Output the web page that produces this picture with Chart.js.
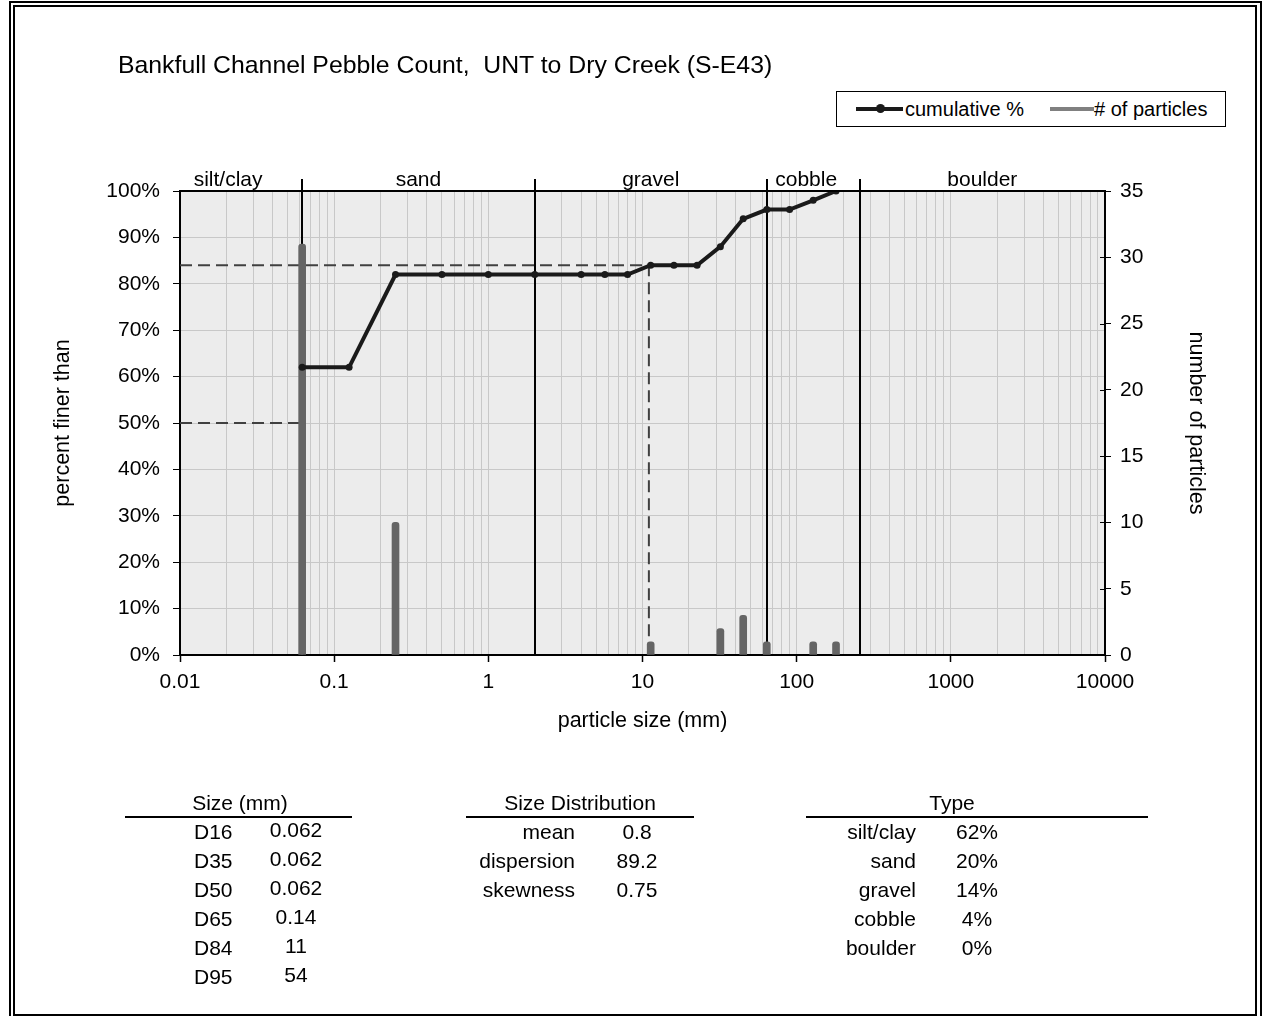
<!DOCTYPE html>
<html>
<head>
<meta charset="utf-8">
<title>Bankfull Channel Pebble Count</title>
<script src="https://cdn.jsdelivr.net/npm/chart.js@4.4.1/dist/chart.umd.min.js"></script>
<style>
  body { margin: 0; background: #fff; }
  #page { position: relative; width: 1263px; height: 1016px; overflow: hidden;
          font-family: "Liberation Sans", Arial, sans-serif; color: #000; }
  #wrap { position: absolute; left: 0; top: 0; width: 1263px; height: 1016px; }
  .frame { position: absolute; border: 2px solid #000; box-sizing: border-box; }
  .txt { position: absolute; white-space: pre; font-size: 21px; line-height: 24px; }
  .rule { position: absolute; height: 2px; background: #000; }
  #legend { position: absolute; left: 836px; top: 91px; width: 390px; height: 36px;
            border: 1px solid #000; box-sizing: border-box; background: #fff; }
</style>
</head>
<body>
<div id="page">
  <div class="frame" style="left:9px; top:1px; width:1253px; height:1040px;"></div>
  <div class="frame" style="left:13px; top:5px; width:1244px; height:1011px;"></div>
  <div id="wrap"><canvas id="chart"></canvas></div>
  <div class="txt" style="left:118px; top:50px; font-size:24.8px; line-height:30px;">Bankfull Channel Pebble Count,  UNT to Dry Creek (S-E43)</div>
  <div id="legend">
    <div style="position:absolute; left:19px; top:15px; width:47px; height:4px; background:#1a1a1a;"></div>
    <div style="position:absolute; left:39px; top:12px; width:9px; height:9px; border-radius:50%; background:#1a1a1a;"></div>
    <div class="txt" style="left:68px; top:5px; font-size:20px;">cumulative %</div>
    <div style="position:absolute; left:213px; top:15px; width:44px; height:4px; background:#808080;"></div>
    <div class="txt" style="left:257px; top:5px; font-size:20px;">#&nbsp;of particles</div>
  </div>
</div>
<script>
// sieve sizes (mm) and cumulative percent finer
const sizes = [0.062, 0.125, 0.25, 0.5, 1, 2, 4, 5.7, 8, 11.3, 16, 22.6, 32, 45, 64, 90, 128, 180];
const cumulative = [62, 62, 82, 82, 82, 82, 82, 82, 82, 84, 84, 84, 88, 94, 96, 96, 98, 100];

// particle counts per size class
const countSizes = [0.062, 0.25, 11.3, 32, 45, 64, 128, 180];
const counts = [31, 10, 1, 2, 3, 1, 1, 1];

// D50 / D84 guide lines
const d50 = 0.062, d84 = 11;

// size class boundaries + names
const classBounds = [0.01, 0.062, 2, 64, 256, 10000];
const classNames = ['silt/clay', 'sand', 'gravel', 'cobble', 'boulder'];

// axis ticks
const xTickValues = [0.01, 0.1, 1, 10, 100, 1000, 10000];
const xTickLabels = ['0.01', '0.1', '1', '10', '100', '1000', '10000'];

// tables
const sizeLabels = ['D16', 'D35', 'D50', 'D65', 'D84', 'D95'];
const sizeValues = ['0.062', '0.062', '0.062', '0.14', '11', '54'];
const distLabels = ['mean', 'dispersion', 'skewness'];
const distValues = ['0.8', '89.2', '0.75'];
const typeLabels = ['silt/clay', 'sand', 'gravel', 'cobble', 'boulder'];
const typeValues = ['62%', '20%', '14%', '4%', '0%'];

const FONT = '"Liberation Sans", Arial, sans-serif';

window.onload = () => {
    const page = document.getElementById('page');

    const addText = (str, x, y, align) => {
        const el = document.createElement('div');
        el.className = 'txt';
        el.textContent = str;
        el.style.left = x + 'px';
        el.style.top = (y - 12) + 'px';
        if (align === 'center') el.style.transform = 'translateX(-50%)';
        if (align === 'right') el.style.transform = 'translateX(-100%)';
        page.appendChild(el);
    };
    const addRule = (x1, x2, y) => {
        const el = document.createElement('div');
        el.className = 'rule';
        el.style.left = x1 + 'px';
        el.style.width = (x2 - x1) + 'px';
        el.style.top = (y - 1) + 'px';
        page.appendChild(el);
    };

    //tables under the chart
    addText('Size (mm)', 240, 803, 'center');
    addRule(125, 352, 817);
    sizeLabels.forEach((l, i) => {
        addText(l, 194, 832 + i * 29, 'left');
        addText(sizeValues[i], 296, 830 + i * 29, 'center');
    });
    addText('Size Distribution', 580, 803, 'center');
    addRule(466, 694, 817);
    distLabels.forEach((l, i) => {
        addText(l, 575, 832 + i * 29, 'right');
        addText(distValues[i], 637, 832 + i * 29, 'center');
    });
    addText('Type', 952, 803, 'center');
    addRule(806, 1148, 817);
    typeLabels.forEach((l, i) => {
        addText(l, 916, 832 + i * 29, 'right');
        addText(typeValues[i], 977, 832 + i * 29, 'center');
    });

    //log grid at 1..9 of each decade
    const gridValues = [];
    for (let e = -2; e < 4; e++) {
        for (let m = 1; m < 10; m++) gridValues.push(+(m * Math.pow(10, e)).toPrecision(6));
    }
    gridValues.push(10000);
    const decadeIndex = v => xTickValues.findIndex(t => Math.abs(Math.log10(t) - Math.log10(v)) < 1e-6);

    // small pixel nudges for the class names (as placed in the original)
    const classLabelNudge = [-13, 0, 0, -7, 0];

    const plotDeco = {
        id: 'plotDeco',
        beforeDraw(chart) {
            const {ctx, chartArea: a} = chart;
            ctx.save();
            ctx.fillStyle = '#ececec';
            ctx.fillRect(a.left, a.top, a.right - a.left, a.bottom - a.top);
            ctx.restore();
        },
        beforeDatasetsDraw(chart) {
            const {ctx, chartArea: a, scales: {x}} = chart;
            ctx.save();
            ctx.strokeStyle = '#000';
            ctx.lineWidth = 2;
            classBounds.slice(1, -1).forEach(b => {
                const px = Math.round(x.getPixelForValue(b));
                ctx.beginPath();
                ctx.moveTo(px, a.top - 12);
                ctx.lineTo(px, a.bottom);
                ctx.stroke();
            });
            ctx.fillStyle = '#000';
            ctx.font = '21px ' + FONT;
            ctx.textAlign = 'center';
            ctx.textBaseline = 'middle';
            classNames.forEach((n, i) => {
                const p1 = x.getPixelForValue(classBounds[i]);
                const p2 = x.getPixelForValue(classBounds[i + 1]);
                ctx.fillText(n, (p1 + p2) / 2 + classLabelNudge[i], a.top - 11);
            });
            ctx.restore();
        },
        afterDatasetsDraw(chart) {
            const {ctx, chartArea: a, scales: {y1}} = chart;
            ctx.save();
            ctx.strokeStyle = '#000';
            ctx.lineWidth = 2;
            ctx.beginPath();
            ctx.moveTo(a.left, a.top);
            ctx.lineTo(a.right, a.top);
            ctx.stroke();
            ctx.lineWidth = 1;
            y1.ticks.forEach(t => {
                const py = Math.round(y1.getPixelForValue(t.value)) + 0.5;
                ctx.beginPath();
                ctx.moveTo(a.right - 5, py);
                ctx.lineTo(a.right, py);
                ctx.stroke();
            });
            ctx.restore();
        }
    };

    const tickFont = {family: FONT, size: 21};
    const titleFont = {family: FONT, size: 21.5};

    new Chart(document.getElementById('chart'), {
        type: 'line',
        data: {
            datasets: [
                {
                    label: 'cumulative %',
                    data: sizes.map((s, i) => ({x: s, y: cumulative[i]})),
                    borderColor: '#1a1a1a',
                    borderWidth: 4,
                    pointRadius: 3.5,
                    pointBorderWidth: 0,
                    pointBackgroundColor: '#1a1a1a',
                    yAxisID: 'y',
                    order: 0
                },
                {
                    type: 'bar',
                    label: '# of particles',
                    data: countSizes.map((s, i) => ({x: s, y: counts[i]})),
                    backgroundColor: '#656565',
                    barThickness: 7,
                    borderRadius: 3,
                    borderSkipped: 'start',
                    yAxisID: 'y1',
                    order: 1
                },
                {
                    label: 'D84',
                    data: [{x: 0.01, y: 84}, {x: d84, y: 84}, {x: d84, y: 0}],
                    borderColor: '#404040',
                    borderWidth: 2,
                    borderDash: [12, 6],
                    pointRadius: 0,
                    yAxisID: 'y',
                    order: 2
                },
                {
                    label: 'D50',
                    data: [{x: 0.01, y: 50}, {x: d50, y: 50}, {x: d50, y: 0}],
                    borderColor: '#404040',
                    borderWidth: 2,
                    borderDash: [12, 6],
                    pointRadius: 0,
                    yAxisID: 'y',
                    order: 2
                }
            ]
        },
        options: {
            responsive: true,
            maintainAspectRatio: false,
            animation: false,
            layout: {padding: {left: 40, right: 38, top: 191, bottom: 261}},
            plugins: {legend: {display: false}, tooltip: {enabled: false}},
            scales: {
                x: {
                    type: 'logarithmic',
                    min: 0.01,
                    max: 10000,
                    offset: false,
                    afterBuildTicks: s => { s.ticks = gridValues.map(v => ({value: v})); },
                    afterFit: s => { s.height = 100; },
                    grid: {
                        color: '#c8c8c8',
                        offset: false,
                        tickLength: 7,
                        tickWidth: 1.5,
                        tickColor: c => (c.tick && decadeIndex(c.tick.value) >= 0) ? '#000' : 'rgba(0,0,0,0)'
                    },
                    border: {color: '#000', width: 2},
                    ticks: {
                        autoSkip: false,
                        maxRotation: 0,
                        padding: 8,
                        color: '#000',
                        font: tickFont,
                        callback: v => { const i = decadeIndex(v); return i >= 0 ? xTickLabels[i] : ''; }
                    },
                    title: {display: true, text: 'particle size (mm)', color: '#000', font: titleFont, padding: {top: 0, bottom: 21}}
                },
                y: {
                    position: 'left',
                    min: 0,
                    max: 100,
                    afterFit: s => { s.width = 140; },
                    grid: {color: '#c8c8c8', tickColor: '#000', tickLength: 7},
                    border: {color: '#000', width: 2},
                    ticks: {stepSize: 10, padding: 13, color: '#000', font: tickFont, callback: v => v + '%'},
                    title: {display: true, text: 'percent finer than', color: '#000', font: titleFont, padding: {top: 10, bottom: 0}}
                },
                y1: {
                    position: 'right',
                    min: 0,
                    max: 35,
                    afterFit: s => { s.width = 120; },
                    grid: {drawOnChartArea: false, tickColor: '#000', tickLength: 6},
                    border: {color: '#000', width: 2},
                    ticks: {stepSize: 5, padding: 9, color: '#000', font: tickFont},
                    title: {display: true, text: 'number of particles', color: '#000', font: titleFont, padding: {top: 16, bottom: 0}}
                }
            }
        },
        plugins: [plotDeco]
    });
};
</script>
</body>
</html>
